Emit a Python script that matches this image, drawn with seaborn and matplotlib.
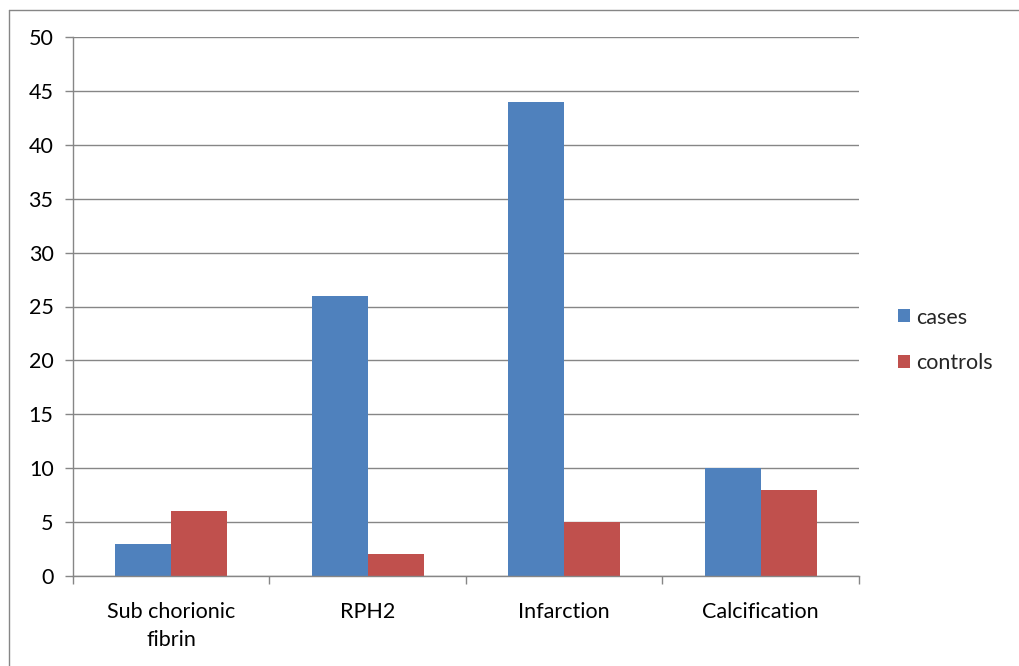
import matplotlib
matplotlib.use("Agg")
import matplotlib.pyplot as plt
import seaborn as sns
import pandas as pd
from matplotlib.lines import Line2D
from matplotlib.patches import Patch

categories = ["Sub chorionic\nfibrin", "RPH2", "Infarction", "Calcification"]
series = ["cases", "controls"]
cases = [3, 26, 44, 10]
controls = [6, 2, 5, 8]
yticks = [0, 5, 10, 15, 20, 25, 30, 35, 40, 45, 50]
colors = ["#4F81BD", "#C0504D"]

df = pd.DataFrame({
    "category": categories * 2,
    "series": [series[0]] * 4 + [series[1]] * 4,
    "value": cases + controls,
})

sns.set_theme(style="white")
plt.rcParams["font.family"] = ["Lato", "DejaVu Sans"]

FS = 15.5

fig = plt.figure(figsize=(10.2, 6.66), dpi=100)
ax = fig.add_axes([73/1020, 1-576/666, (859-73)/1020, (576-37)/666])

sns.barplot(data=df, x="category", y="value", hue="series", palette=colors,
            width=0.57, saturation=1, ax=ax, legend=False, edgecolor="none")

ax.set_ylim(0, 50)
ax.set_xlim(-0.5, 3.5)
ax.set_yticks(yticks)
ax.set_yticklabels([str(v) for v in yticks], fontsize=FS, color="black")
ax.set_xlabel("")
ax.set_ylabel("")
ax.yaxis.grid(True, color="#868686", linewidth=1)
ax.set_axisbelow(True)
for s in ["top", "right"]:
    ax.spines[s].set_visible(False)
ax.spines["left"].set_color("#868686")
ax.spines["bottom"].set_color("#868686")
ax.spines["left"].set_linewidth(1)
ax.spines["bottom"].set_linewidth(1)
ax.tick_params(axis="y", direction="out", length=6, color="#868686", width=1, pad=8, left=True)
ax.set_xticks([0, 1, 2, 3])
ax.set_xticklabels(categories, fontsize=FS, color="black", linespacing=1.45)
ax.tick_params(axis="x", length=0, pad=19)
ax.set_xticks([-0.5, 0.5, 1.5, 2.5, 3.5], minor=True)
ax.tick_params(axis="x", which="minor", direction="out", length=6, color="#868686", width=1, bottom=True)

handles = [Patch(facecolor=c, edgecolor="none") for c in colors]
ax.legend(handles, series, loc="center left", bbox_to_anchor=(1.025, 0.437),
          frameon=False, fontsize=FS, handlelength=0.55, handleheight=0.55,
          handletextpad=0.3, labelspacing=1.2)

fig.add_artist(Line2D([9/1020, 9/1020], [0, 1-10/666], color="#868686", linewidth=1))
fig.add_artist(Line2D([9/1020, 1], [1-10/666, 1-10/666], color="#868686", linewidth=1))

fig.savefig("out.png", dpi=100)
